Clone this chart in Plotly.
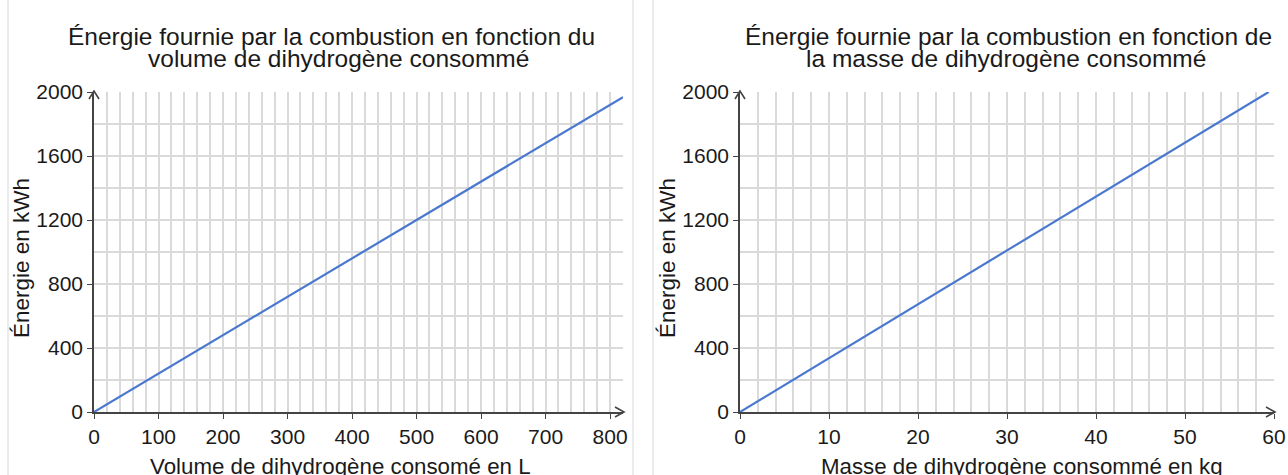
import plotly.graph_objects as go

# ---- data ----
volume_L = [0, 820]
energie_volume_kWh = [0, 1968]
masse_kg = [0, 59.4]
energie_masse_kWh = [0, 2000]

x1_ticks = [0, 100, 200, 300, 400, 500, 600, 700, 800]
x2_ticks = [0, 10, 20, 30, 40, 50, 60]
y_ticks = [0, 400, 800, 1200, 1600, 2000]

W, H = 1288, 475
FONT = "Liberation Sans, Arial, sans-serif"
TXT = "#1a1a1a"
GRID = "#dadada"
AX = "#444444"
BLUE = "#4a78cf"

def px(x):
    return x / W

def py(y):
    return 1 - y / H

fig = go.Figure()
fig.add_trace(go.Scatter(x=volume_L, y=energie_volume_kWh, mode="lines",
                         line=dict(color=BLUE, width=2.2), xaxis="x", yaxis="y",
                         showlegend=False, hoverinfo="skip"))
fig.add_trace(go.Scatter(x=masse_kg, y=energie_masse_kWh, mode="lines",
                         line=dict(color=BLUE, width=2.2), xaxis="x2", yaxis="y2",
                         showlegend=False, hoverinfo="skip"))

ydom = [py(412), py(92)]

def xaxis_cfg(dom, rng, ticks, minor_dt, anchor):
    return dict(domain=dom, range=rng, tickvals=ticks, ticktext=[str(t) for t in ticks],
                showgrid=True, gridcolor=GRID, gridwidth=1.5,
                minor=dict(dtick=minor_dt, tick0=0, showgrid=True, gridcolor=GRID, gridwidth=1.5, ticks=""),
                showline=True, linecolor=AX, linewidth=1.6, zeroline=False,
                ticks="outside", ticklen=5, tickwidth=1.4, tickcolor=AX, automargin=False,
                tickfont=dict(family=FONT, size=21, color=TXT), anchor=anchor, fixedrange=True)

def yaxis_cfg(anchor):
    return dict(domain=ydom, range=[0, 2000], tickvals=y_ticks, ticktext=[str(t) for t in y_ticks],
                showgrid=True, gridcolor=GRID, gridwidth=1.5,
                minor=dict(dtick=200, tick0=0, showgrid=True, gridcolor=GRID, gridwidth=1.5, ticks=""),
                showline=True, linecolor=AX, linewidth=1.6, zeroline=False,
                ticks="outside", ticklen=5, tickwidth=1.4, tickcolor=AX, automargin=False,
                tickfont=dict(family=FONT, size=21, color=TXT), anchor=anchor, fixedrange=True)

fig.update_layout(
    width=W, height=H,
    margin=dict(l=0, r=0, t=0, b=0, autoexpand=False),
    paper_bgcolor="white", plot_bgcolor="white",
    xaxis=xaxis_cfg([px(94), px(623)], [0, 820], x1_ticks, 20, "y"),
    yaxis=yaxis_cfg("x"),
    xaxis2=xaxis_cfg([px(740), px(1274)], [0, 60], x2_ticks, 2, "y2"),
    yaxis2=yaxis_cfg("x2"),
)

ann = []
def text(x, y, s, size, angle=0):
    ann.append(dict(x=px(x), y=py(y), xref="paper", yref="paper", text=s, showarrow=False,
                    xanchor="center", yanchor="middle", textangle=angle,
                    font=dict(family=FONT, size=size, color=TXT)))

# titles
text(331, 37, "Énergie fournie par la combustion en fonction du", 24.5)
text(338, 59, "volume de dihydrogène consommé", 24.5)
text(1008, 37, "Énergie fournie par la combustion en fonction de", 24.5)
text(1006, 59, "la masse de dihydrogène consommé", 24.5)
# axis titles
text(21, 258, "Énergie en kWh", 22.5, -90)
text(667, 258, "Énergie en kWh", 22.5, -90)
text(340, 466, "Volume de dihydrogène consomé en L", 22.3)
text(1022, 466, "Masse de dihydrogène consommé en kg", 22.3)
fig.update_layout(annotations=ann)

shapes = []
# arrow heads (paper-anchored so they are not clipped by the plot area)
for x_left, x_right in [(94, 623), (740, 1274)]:
    shapes.append(dict(type="path", xref="paper", yref="paper", xsizemode="pixel", ysizemode="pixel",
                       xanchor=px(x_right + 1), yanchor=py(412), path="M -9 5 L 0 0 L -9 -5",
                       line=dict(color=AX, width=1.6)))
    shapes.append(dict(type="path", xref="paper", yref="paper", xsizemode="pixel", ysizemode="pixel",
                       xanchor=px(x_left), yanchor=py(91), path="M -5 -8 L 0 0 L 5 -8",
                       line=dict(color=AX, width=1.6)))
# panel borders
for xb in [8, 633, 653]:
    shapes.append(dict(type="line", xref="paper", yref="paper", x0=px(xb), x1=px(xb), y0=0, y1=1,
                       line=dict(color="#d8d8d8", width=1)))
fig.update_layout(shapes=shapes)

fig.write_html("out.html", config={"displayModeBar": False},
               post_script="document.body.style.margin='0';document.body.style.overflow='hidden';")
